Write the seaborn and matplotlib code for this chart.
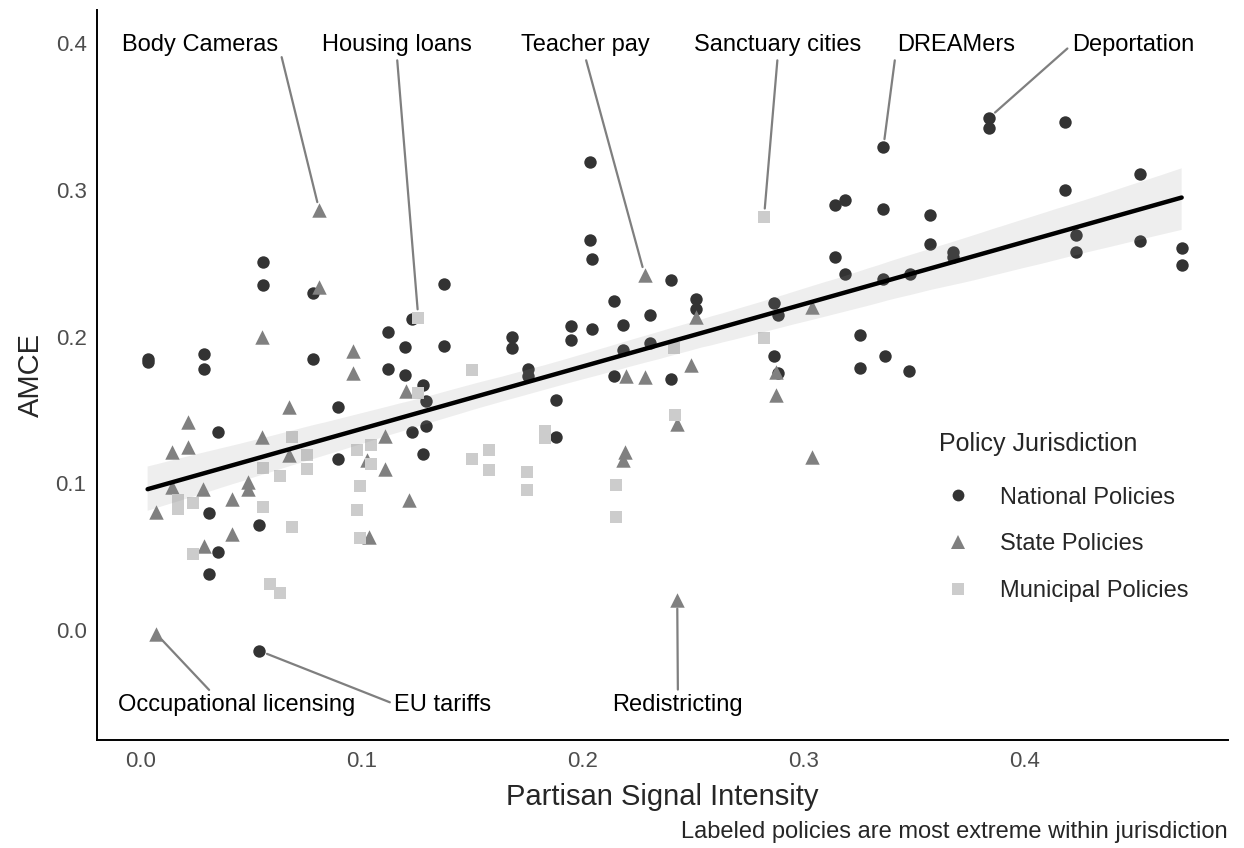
import numpy as np
import pandas as pd
import matplotlib
matplotlib.use("Agg")
import matplotlib.pyplot as plt
from matplotlib.lines import Line2D
import seaborn as sns

# ---- data -----------------------------------------------------------------
national_x = [0.003, 0.003, 0.0285, 0.0285, 0.031, 0.031, 0.035, 0.035,
              0.0535, 0.0535, 0.055, 0.055, 0.078, 0.078, 0.089, 0.089,
              0.112, 0.112, 0.1196, 0.1196, 0.1226, 0.1226, 0.1275, 0.1275,
              0.1288, 0.1288, 0.137, 0.137, 0.168, 0.168, 0.175, 0.175,
              0.188, 0.188, 0.1946, 0.1946, 0.203, 0.203, 0.204, 0.204,
              0.214, 0.214, 0.218, 0.218, 0.2306, 0.2306, 0.2397, 0.2397,
              0.251, 0.251, 0.2864, 0.2864, 0.2884, 0.2884, 0.314, 0.314,
              0.3186, 0.3186, 0.3255, 0.3255, 0.336, 0.336, 0.336, 0.3367,
              0.348, 0.3477, 0.357, 0.357, 0.3676, 0.3676, 0.3837, 0.3837,
              0.418, 0.418, 0.423, 0.423, 0.452, 0.452, 0.471, 0.471]
national_y = [0.185, 0.183, 0.188, 0.178, 0.080, 0.038, 0.135, 0.053,
              0.072, -0.014, 0.251, 0.235, 0.230, 0.185, 0.152, 0.117,
              0.203, 0.178, 0.193, 0.174, 0.212, 0.135, 0.167, 0.120,
              0.156, 0.139, 0.236, 0.194, 0.200, 0.192, 0.178, 0.173,
              0.157, 0.132, 0.207, 0.198, 0.319, 0.266, 0.253, 0.205,
              0.224, 0.173, 0.208, 0.191, 0.215, 0.196, 0.2385, 0.171,
              0.226, 0.219, 0.223, 0.187, 0.215, 0.175, 0.2895, 0.254,
              0.293, 0.243, 0.201, 0.179, 0.329, 0.287, 0.239, 0.187,
              0.243, 0.1765, 0.283, 0.2635, 0.258, 0.254, 0.349, 0.342,
              0.346, 0.300, 0.269, 0.258, 0.311, 0.2655, 0.2605, 0.249]

state_x = [0.0068, 0.0068, 0.0139, 0.0139, 0.0214, 0.0214, 0.0282, 0.0285,
           0.041, 0.041, 0.0483, 0.0483, 0.0546, 0.0546, 0.067, 0.067,
           0.0807, 0.0807, 0.0958, 0.0958, 0.1024, 0.1033, 0.1104, 0.1104,
           0.120, 0.1211, 0.2195, 0.219, 0.218, 0.228, 0.228, 0.2427,
           0.2427, 0.249, 0.251, 0.2873, 0.2873, 0.3038, 0.3038]
state_y = [0.0806, -0.0023, 0.1215, 0.0977, 0.142, 0.125, 0.0965, 0.0572,
           0.0893, 0.0659, 0.101, 0.0965, 0.1999, 0.1317, 0.1522, 0.1193,
           0.2862, 0.234, 0.190, 0.1753, 0.1158, 0.0636, 0.1322, 0.1101,
           0.163, 0.0886, 0.1733, 0.1215, 0.1158, 0.242, 0.1727, 0.1408,
           0.0204, 0.1806, 0.2135, 0.176, 0.160, 0.2203, 0.1177]

municipal_x = [0.0169, 0.0169, 0.0237, 0.0234, 0.0553, 0.0553, 0.0584, 0.0629,
               0.0629, 0.0682, 0.0682, 0.075, 0.075, 0.0976, 0.0976, 0.0991,
               0.0991, 0.1039, 0.1039, 0.1252, 0.1255, 0.150, 0.150, 0.1575,
               0.1575, 0.1745, 0.1745, 0.1828, 0.1828, 0.215, 0.215, 0.2413,
               0.2416, 0.282, 0.282]
municipal_y = [0.0886, 0.0829, 0.0868, 0.0518, 0.1106, 0.084, 0.0318, 0.0254,
               0.1052, 0.1317, 0.0704, 0.1193, 0.1097, 0.1231, 0.0818, 0.0983,
               0.0629, 0.1265, 0.1135, 0.1617, 0.213, 0.1776, 0.1167, 0.1227,
               0.109, 0.1079, 0.0954, 0.136, 0.131, 0.0988, 0.0772, 0.1924,
               0.1465, 0.2817, 0.1994]

jurisdictions = ["National Policies", "State Policies", "Municipal Policies"]

# Labeled policies: name, jurisdiction and position within that series
label_names = ["Body Cameras", "Housing loans", "Teacher pay", "Sanctuary cities",
               "DREAMers", "Deportation", "Occupational licensing", "EU tariffs",
               "Redistricting"]
label_groups = ["State Policies", "Municipal Policies", "State Policies",
                "Municipal Policies", "National Policies", "National Policies",
                "State Policies", "National Policies", "State Policies"]
label_index = [16, 20, 29, 33, 60, 70, 1, 9, 32]

# ---- layout / style -------------------------------------------------------
# text centre (data coords) and where on the text box the leader starts
label_text_pos = [(0.0267, 0.399), (0.1158, 0.399), (0.2009, 0.399),
                  (0.2882, 0.399), (0.3688, 0.399), (0.4489, 0.399),
                  (0.0434, -0.0511), (0.1367, -0.0511), (0.243, -0.0511)]
label_relpos = [(1.0, 0.6), (0.5, 0.0), (0.5, 0.0), (0.5, 0.0), (0.0, 0.5),
                (0.0, 0.5), (0.4, 1.0), (0.0, 0.55), (0.5, 1.0)]

colors = {"National Policies": "#333333",
          "State Policies": "#808080",
          "Municipal Policies": "#cccccc"}
markers = {"National Policies": "o",
           "State Policies": "^",
           "Municipal Policies": "s"}
msize = {"National Policies": 80,
         "State Policies": 108,
         "Municipal Policies": 74}

sns.set_style("white")
plt.rcParams["font.family"] = ["Liberation Sans", "DejaVu Sans"]

series = {
    "National Policies": (national_x, national_y),
    "State Policies": (state_x, state_y),
    "Municipal Policies": (municipal_x, municipal_y),
}
df = pd.concat(
    [pd.DataFrame({"signal": xs, "amce": ys, "jurisdiction": j})
     for j, (xs, ys) in series.items()],
    ignore_index=True,
)

fig, ax = plt.subplots(figsize=(12.44, 8.48), dpi=100)
fig.subplots_adjust(left=0.078, right=0.987, bottom=0.127, top=0.988)

for j in jurisdictions:
    sns.scatterplot(data=df[df["jurisdiction"] == j], x="signal", y="amce",
                    color=colors[j], marker=markers[j], s=msize[j],
                    linewidth=0, legend=False, ax=ax)

n_before = len(ax.collections)
sns.regplot(data=df, x="signal", y="amce", scatter=False, ci=95,
            truncate=True, color="black", line_kws={"lw": 3.2}, ax=ax)
for coll in ax.collections[n_before:]:
    coll.set_facecolor((0.56, 0.56, 0.56, 0.18))
    coll.set_edgecolor("none")

# Labels with leader segments
for name, grp, idx, (tx, ty), rp in zip(label_names, label_groups, label_index,
                                        label_text_pos, label_relpos):
    px, py = series[grp][0][idx], series[grp][1][idx]
    ax.annotate(name, xy=(px, py), xytext=(tx, ty), ha="center", va="center",
                fontsize=17, color="black",
                arrowprops=dict(arrowstyle="-", color="#7f7f7f", lw=1.6,
                                shrinkA=1, shrinkB=6, relpos=rp))

ax.set_xlim(-0.0199, 0.4919)
ax.set_ylim(-0.075, 0.4225)
ax.set_xticks([0.0, 0.1, 0.2, 0.3, 0.4])
ax.set_yticks([0.0, 0.1, 0.2, 0.3, 0.4])
ax.set_xticklabels(["0.0", "0.1", "0.2", "0.3", "0.4"])
ax.set_yticklabels(["0.0", "0.1", "0.2", "0.3", "0.4"])
ax.tick_params(axis="both", labelsize=16, labelcolor="#4d4d4d",
               color="#333333", length=4.5, width=1.1, direction="out", pad=3)
ax.set_xlabel("Partisan Signal Intensity", fontsize=21, labelpad=8)
ax.set_ylabel("AMCE", fontsize=21, labelpad=8)

sns.despine(ax=ax)
for side in ("left", "bottom"):
    ax.spines[side].set_linewidth(1.4)
    ax.spines[side].set_color("black")

handles = [Line2D([], [], linestyle="none", marker=markers[j],
                  markerfacecolor=colors[j], markeredgewidth=0,
                  markersize=np.sqrt(msize[j]) * 0.95)
           for j in jurisdictions]
leg = ax.legend(handles, jurisdictions, title="Policy Jurisdiction",
                loc="upper left", bbox_to_anchor=(0.745, 0.422),
                frameon=False, alignment="left", fontsize=17,
                title_fontsize=18, labelspacing=1.04, handletextpad=0.95,
                handlelength=1.6, borderaxespad=0, borderpad=0)
leg._legend_box.sep = 22

fig.text(0.987, 0.006, "Labeled policies are most extreme within jurisdiction",
         ha="right", va="bottom", fontsize=17)

fig.savefig("out.png", dpi=100)
